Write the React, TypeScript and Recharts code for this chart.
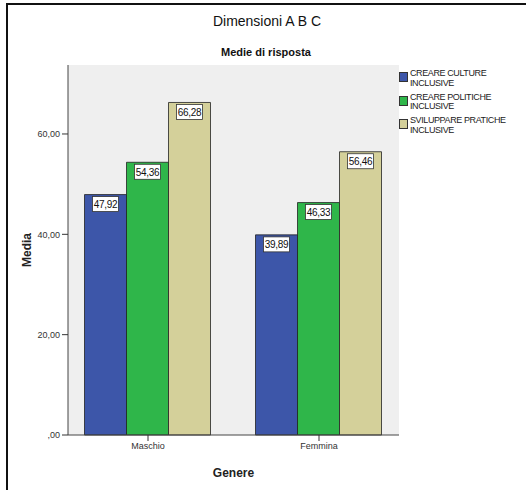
import { BarChart, Bar, XAxis, YAxis, CartesianGrid, LabelList } from 'recharts';

const genders = ['Maschio', 'Femmina'];
const culture = [47.92, 39.89];
const politiche = [54.36, 46.33];
const pratiche = [66.28, 56.46];
const yTicks = [0, 20, 40, 60];
const yMax = 73.75;

const seriesNames = ['CREARE CULTURE INCLUSIVE', 'CREARE POLITICHE INCLUSIVE', 'SVILUPPARE PRATICHE INCLUSIVE'];
const colors = ['#3d56a9', '#2fb64a', '#d4d09a'];

const data = genders.map((g, i) => ({
  genere: g,
  culture: culture[i],
  politiche: politiche[i],
  pratiche: pratiche[i],
}));

const FONT = '"Liberation Sans", Arial, sans-serif';
const FRAME = '#444';

const fmt = (v: number) => {
  const s = v.toFixed(2).replace('.', ',');
  return s.startsWith('0,') ? s.slice(1) : s;
};

function ValueBox(props: any) {
  const { x, y, width, value } = props;
  const w = 26;
  const h = 15;
  const cx = x + width / 2;
  return (
    <g>
      <rect x={cx - w / 2} y={y + 2} width={w} height={h} fill="#fff" stroke="#333" strokeWidth={0.8} />
      <text x={cx} y={y + 13.5} textAnchor="middle" fontSize={10} fontFamily={FONT} fill="#111" letterSpacing={-0.3}>
        {fmt(value)}
      </text>
    </g>
  );
}

// legend sits just right of the plot frame
function LegendBox() {
  return (
    <div style={{ position: 'absolute', left: 399, top: 69, fontFamily: FONT, fontSize: 9, letterSpacing: -0.4, color: '#222', lineHeight: '9.5px' }}>
      {seriesNames.map((name, i) => {
        const words = name.split(' ');
        const last = words.pop();
        return (
          <div key={name} style={{ display: 'flex', alignItems: 'flex-start', height: 23.5 }}>
            <div style={{ width: 7, height: 8, marginTop: 3, background: colors[i], border: '0.8px solid #333' }} />
            <div style={{ marginLeft: 2 }}>
              <div>{words.join(' ')}</div>
              <div>{last}</div>
            </div>
          </div>
        );
      })}
    </div>
  );
}

function YLabel(props: any) {
  const { viewBox } = props;
  const cy = viewBox.y + viewBox.height / 2;
  return (
    <text x={31} y={cy} transform={`rotate(-90, 31, ${cy})`} textAnchor="middle" fontSize={12} fontWeight="bold" fontFamily={FONT} fill="#222">
      Media
    </text>
  );
}

function XLabel(props: any) {
  const { viewBox } = props;
  return (
    <text x={viewBox.x + viewBox.width / 2} y={477} textAnchor="middle" fontSize={12} fontWeight="bold" fontFamily={FONT} fill="#222">
      Genere
    </text>
  );
}

export default function App() {
  const tickStyle = { fontSize: 9, fontFamily: FONT, fill: '#333' };
  return (
    <div style={{ position: 'absolute', left: 0, top: 0, width: 526, height: 490, background: '#fff' }}>
      <div style={{ position: 'absolute', left: 6, top: 3, right: 0, bottom: 0, borderLeft: '2px solid #111', borderTop: '2px solid #111' }} />
      <BarChart
        width={526}
        height={490}
        data={data}
        margin={{ top: 65, right: 127, bottom: 0, left: 0 }}
        barCategoryGap={22}
        barGap={0}
        style={{ position: 'absolute', left: 0, top: 0 }}
      >
        <text x={267} y={26} textAnchor="middle" fontSize={14} fontFamily={FONT} fill="#111">
          Dimensioni A B C
        </text>
        <text x={266} y={56} textAnchor="middle" fontSize={11} fontWeight="bold" fontFamily={FONT} fill="#111">
          Medie di risposta
        </text>
        <CartesianGrid fill="#efefef" horizontal={false} vertical={false} />
        <XAxis
          dataKey="genere"
          height={55}
          padding={{ left: -5.5, right: -5.5 }}
          axisLine={{ stroke: FRAME }}
          tickLine={{ stroke: '#333' }}
          tickSize={6}
          tick={tickStyle}
          label={XLabel}
        />
        <XAxis xAxisId="top" orientation="top" dataKey="genere" height={0} tick={false} tickLine={false} axisLine={{ stroke: FRAME }} />
        <YAxis
          width={68}
          domain={[0, yMax]}
          ticks={yTicks}
          tickFormatter={fmt}
          axisLine={{ stroke: FRAME }}
          tickLine={{ stroke: '#333' }}
          tickSize={6}
          tick={tickStyle}
          label={YLabel}
        />
        <YAxis yAxisId="right" orientation="right" width={0} domain={[0, yMax]} tick={false} tickLine={false} axisLine={{ stroke: FRAME }} />
        <Bar dataKey="culture" name={seriesNames[0]} fill={colors[0]} stroke="#222" strokeWidth={0.8} isAnimationActive={false}>
          <LabelList dataKey="culture" content={ValueBox} />
        </Bar>
        <Bar dataKey="politiche" name={seriesNames[1]} fill={colors[1]} stroke="#222" strokeWidth={0.8} isAnimationActive={false}>
          <LabelList dataKey="politiche" content={ValueBox} />
        </Bar>
        <Bar dataKey="pratiche" name={seriesNames[2]} fill={colors[2]} stroke="#222" strokeWidth={0.8} isAnimationActive={false}>
          <LabelList dataKey="pratiche" content={ValueBox} />
        </Bar>
      </BarChart>
      <LegendBox />
    </div>
  );
}
